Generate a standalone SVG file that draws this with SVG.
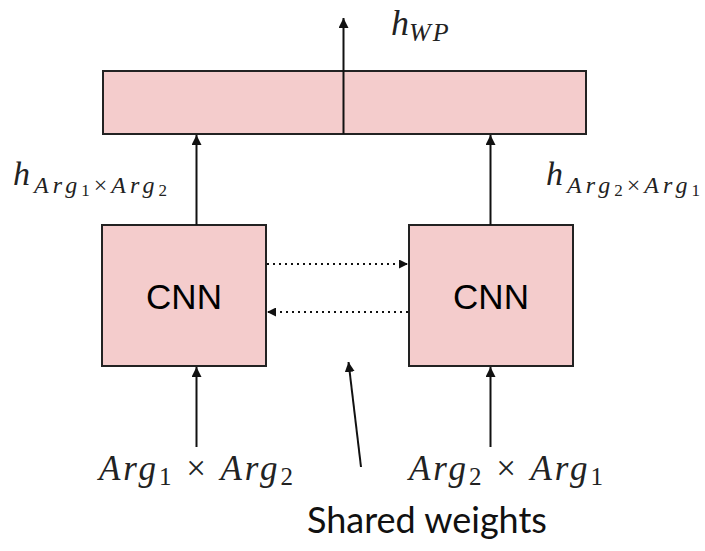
<svg xmlns="http://www.w3.org/2000/svg" width="705" height="551" viewBox="0 0 705 551">
<style>
.box{fill:#f4cccc;stroke:#222;stroke-width:2}
.ln{stroke:#111;stroke-width:2;fill:none}
.dot{stroke:#111;stroke-width:2;fill:none;stroke-dasharray:2 4}
.cnn{font-family:"Liberation Sans",Arial,sans-serif;font-size:35px;fill:#000;text-anchor:middle}
.m{font-family:"Liberation Serif","Times New Roman",serif;fill:#222}
.i{font-style:italic}
.sw{font-family:Lato,"Noto Sans",sans-serif;font-size:36px;fill:#111}
</style>
<defs>
<marker id="ah" viewBox="0 0 10 10" refX="10" refY="5" markerWidth="10" markerHeight="10" markerUnits="userSpaceOnUse" orient="auto">
<path d="M0,0 L10,5 L0,10 z" fill="#111"/>
</marker>
<marker id="ahs" viewBox="0 0 10 10" refX="10" refY="5" markerWidth="9" markerHeight="9" markerUnits="userSpaceOnUse" orient="auto">
<path d="M0,0 L10,5 L0,10 z" fill="#111"/>
</marker>
</defs>
<g id="top">
<rect class="box" x="103" y="71" width="483" height="63"/>
</g>
<g id="cnn1">
<rect class="box" x="102" y="225" width="164" height="141"/>
<text class="cnn" x="184" y="309">CNN</text>
</g>
<g id="cnn2">
<rect class="box" x="409" y="225" width="164" height="141"/>
<text class="cnn" x="491" y="309">CNN</text>
</g>
<g id="connectors">
<line class="ln" x1="343.5" y1="134" x2="343.5" y2="18" marker-end="url(#ah)"/>
<line class="ln" x1="196.5" y1="225" x2="196.5" y2="135" marker-end="url(#ah)"/>
<line class="ln" x1="490.5" y1="225" x2="490.5" y2="135" marker-end="url(#ah)"/>
<line class="ln" x1="196.5" y1="447" x2="196.5" y2="367" marker-end="url(#ah)"/>
<line class="ln" x1="490.5" y1="447" x2="490.5" y2="367" marker-end="url(#ah)"/>
<line class="dot" x1="267" y1="264" x2="408" y2="264" marker-end="url(#ahs)"/>
<line class="dot" x1="408" y1="312" x2="267" y2="312" marker-end="url(#ahs)"/>
<line class="ln" x1="361" y1="467" x2="348.5" y2="362" marker-end="url(#ah)"/>
</g>
<g id="labels">
<text class="m" x="391" y="35" font-size="36"><tspan class="i">h</tspan><tspan class="i" font-size="26" dy="6" letter-spacing="2">WP</tspan></text>
<text class="m" x="13" y="185" font-size="34" textLength="154" lengthAdjust="spacing"><tspan class="i">h</tspan><tspan font-size="24" dy="8"><tspan class="i">Arg</tspan><tspan font-size="17" dy="3">1</tspan><tspan dy="-3">×</tspan><tspan class="i">Arg</tspan><tspan font-size="17" dy="3">2</tspan></tspan></text>
<text class="m" x="546" y="185" font-size="34" textLength="154" lengthAdjust="spacing"><tspan class="i">h</tspan><tspan font-size="24" dy="8"><tspan class="i">Arg</tspan><tspan font-size="17" dy="3">2</tspan><tspan dy="-3">×</tspan><tspan class="i">Arg</tspan><tspan font-size="17" dy="3">1</tspan></tspan></text>
<text class="m" x="99" y="480" font-size="35" textLength="194" lengthAdjust="spacing"><tspan class="i">Arg</tspan><tspan font-size="25" dy="5">1</tspan><tspan dy="-5"> × </tspan><tspan class="i">Arg</tspan><tspan font-size="25" dy="5">2</tspan></text>
<text class="m" x="409" y="480" font-size="35" textLength="194" lengthAdjust="spacing"><tspan class="i">Arg</tspan><tspan font-size="25" dy="5">2</tspan><tspan dy="-5"> × </tspan><tspan class="i">Arg</tspan><tspan font-size="25" dy="5">1</tspan></text>
<text class="sw" x="307" y="533">Shared weights</text>
</g>
</svg>
